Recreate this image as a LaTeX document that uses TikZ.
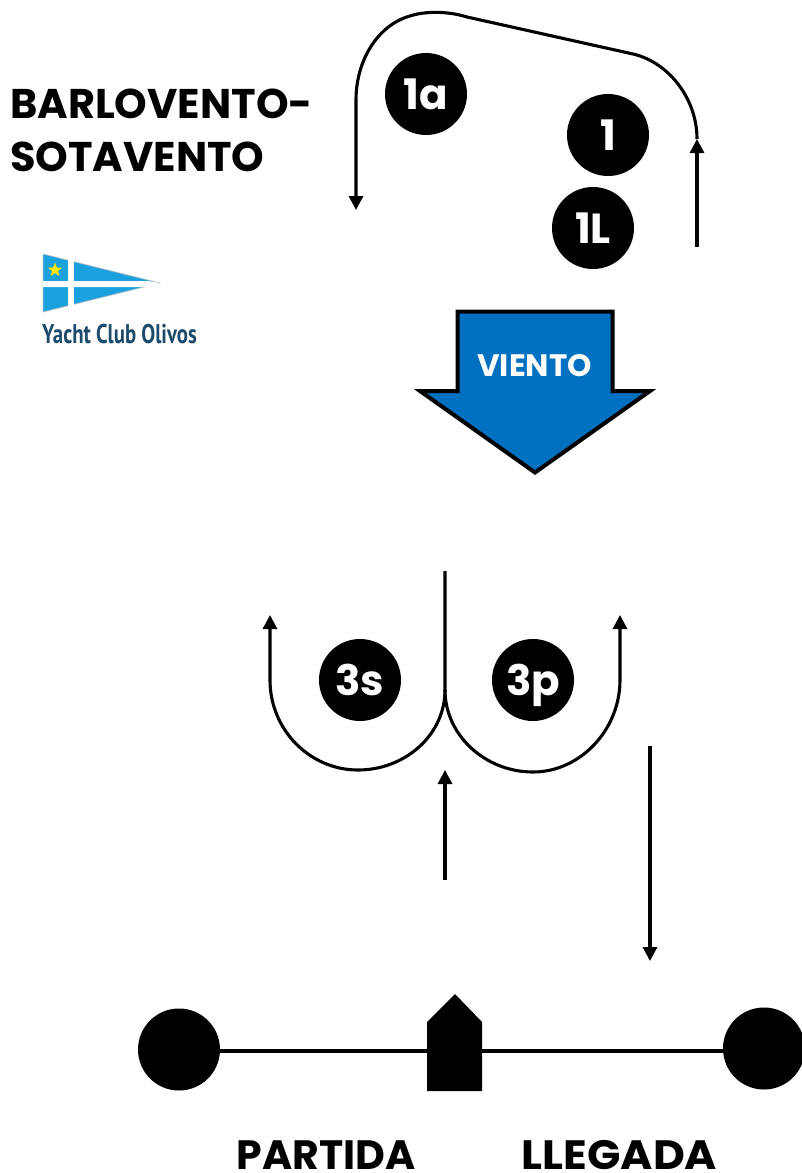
\documentclass[tikz,border=0pt]{standalone}
\usepackage{fontspec}
\setmainfont{Poppins}
\newfontfamily\logofont{PT Sans}
\usetikzlibrary{arrows.meta,shapes.geometric}
\definecolor{windblue}{HTML}{0070C0}
\definecolor{flagblue}{HTML}{1BA1DE}
\definecolor{logotext}{HTML}{1B4A6B}
\tikzset{
  x=1pt,y=-1pt,
  roundmark/.style={circle,fill=black,minimum size=82pt,inner sep=0pt,text=white,text height=31pt,text depth=0pt,font=\bfseries\fontsize{42}{42}\selectfont},
  buoy/.style={circle,fill=black,minimum size=82pt,inner sep=0pt},
  course/.style={draw=black,line width=3.1pt,line join=round},
  tipped/.style={course,-{Triangle[length=14pt,width=14pt]}},
  title/.style={anchor=base west,inner sep=0pt,font=\bfseries\fontsize{41.5}{41.5}\selectfont},
  bigtext/.style={anchor=base,inner sep=0pt,font=\bfseries\fontsize{41}{41}\selectfont},
}
\begin{document}
\begin{tikzpicture}
\useasboundingbox (0,0) rectangle (802,1173);
% title
\node[title] (t1) at (10,118) {BARLOVENTO-};
\node[title] (t2) at (10,171) {SOTAVENTO};
% logo
\fill[flagblue,draw=black!25,line width=.6pt] (43,254) -- (160,283) -- (43,312) -- cycle;
\fill[white] (68,260) rectangle (74,307);
\fill[white] (43,281) -- (148,281) -- (160,283) -- (148,287) -- (43,287) -- cycle;
\node[star,star points=5,star point ratio=2.4,fill=yellow!90!orange,minimum size=15pt,inner sep=0pt] (logostar) at (55,270) {};
\node[anchor=base west,inner sep=0pt,text=logotext,font=\logofont\bfseries\fontsize{27}{27}\selectfont,xscale=.77] (logo) at (42,343) {Yacht Club Olivos};
% top marks
\node[roundmark] (m1a) at (426,94) {1a};
\node[roundmark] (m1) at (608,135) {1};
\node[roundmark] (m1L) at (593,228) {1L};
% top course
\coordinate (a0) at (697,247);
\coordinate (a1) at (697,139);
\coordinate (a2) at (633,54);
\coordinate (a3) at (467,17);
\coordinate (a4) at (356,100);
\coordinate (a5) at (356,210);
\draw[tipped] (a0) -- (a1);
\draw[tipped] (a1) .. controls (697,98) and (668,62) .. (a2) -- (a3)
  .. controls (448,11) and (425,11) .. (410,16) .. controls (378,25) and (356,60) .. (a4) -- (a5);
% wind
\draw[fill=windblue,line width=4pt,miter limit=10] (457.5,311.5) -- (612.5,311.5) -- (612.5,391) -- (650,391) -- (535,472.5) -- (420,391) -- (457.5,391) -- cycle;
\node[inner sep=0pt,text=white,font=\bfseries\fontsize{31}{31}\selectfont] (wind) at (534.5,366) {VIENTO};
% lower marks
\node[roundmark] (m3s) at (360,680) {3s};
\node[roundmark] (m3p) at (533,680) {3p};
% gate course
\coordinate (b0) at (445,571);
\coordinate (b1) at (445,690);
\coordinate (l1) at (358,770);
\coordinate (l2) at (270,680);
\coordinate (l3) at (270,615);
\coordinate (r1) at (533,772);
\coordinate (r2) at (620,680);
\coordinate (r3) at (620,615);
\draw[tipped] (b0) -- (b1) .. controls (445,735) and (405,770) .. (l1) .. controls (310,770) and (270,730) .. (l2) -- (l3);
\draw[tipped] (b1) .. controls (445,735) and (485,772) .. (r1) .. controls (580,772) and (620,730) .. (r2) -- (r3);
\coordinate (s0) at (445,880);
\coordinate (s1) at (445,770);
\draw[tipped] (s0) -- (s1);
\coordinate (f0) at (650,746);
\coordinate (f1) at (650,961);
\draw[tipped] (f0) -- (f1);
% start/finish line
\node[buoy] (pin) at (179,1049.5) {};
\node[buoy] (rc) at (764,1048.5) {};
\coordinate (g0) at (210,1051);
\coordinate (g1) at (735,1051);
\draw[black,line width=4.5pt] (g0) -- (g1);
\fill[black] (427,1091) -- (427,1022) -- (455,994) -- (482,1022) -- (482,1091) -- cycle;
\node[bigtext] (start) at (326,1169) {PARTIDA};
\node[bigtext,xscale=1.07] (finish) at (619.5,1169) {LLEGADA};
\end{tikzpicture}
\end{document}
